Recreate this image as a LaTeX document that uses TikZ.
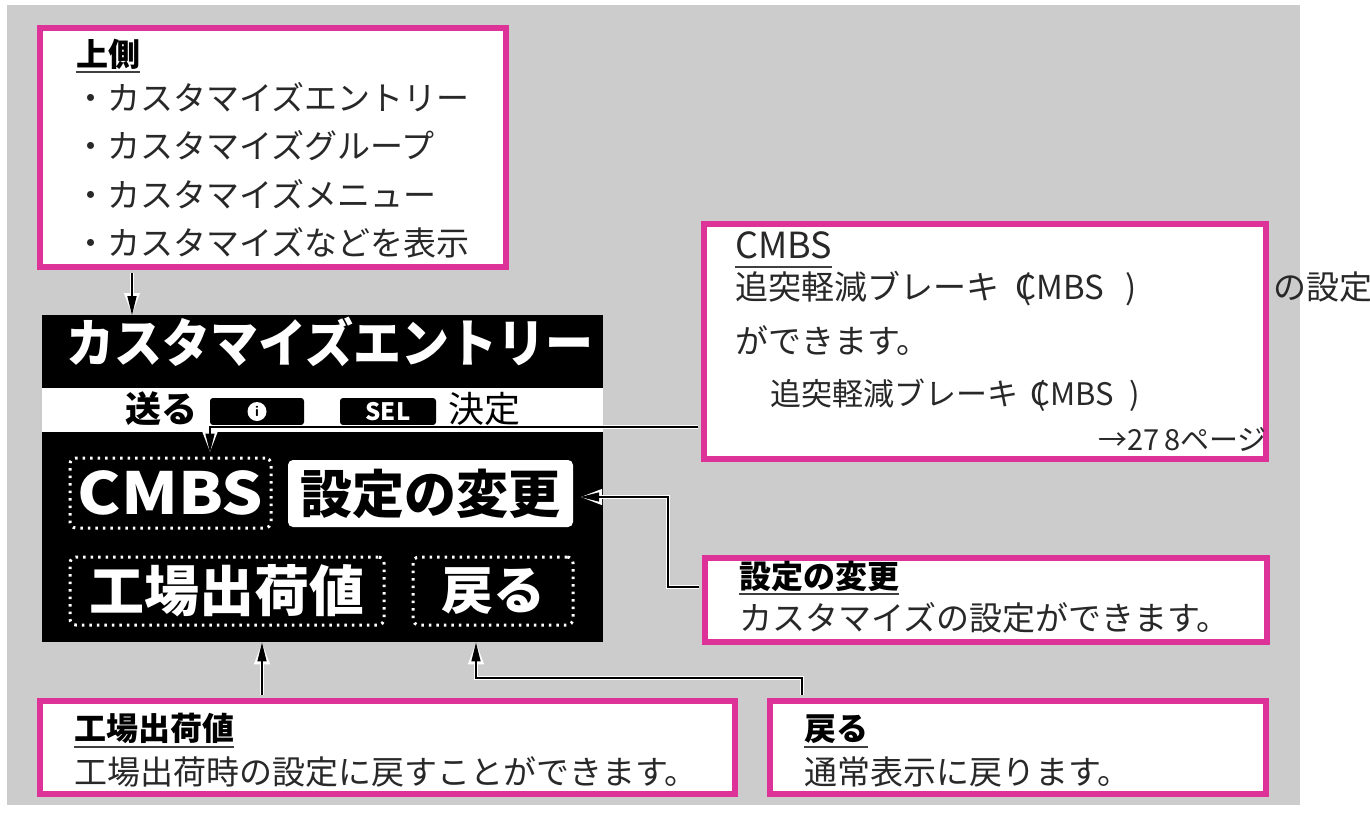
\documentclass[tikz,border=0pt]{standalone}
\usepackage{fontspec}
\usepackage{graphicx}
\usetikzlibrary{arrows.meta,calc}
\newfontfamily\jp{Noto Sans CJK JP}
\definecolor{pinkc}{RGB}{221,51,153}
\definecolor{bgc}{RGB}{204,204,204}
\definecolor{txt}{RGB}{40,40,40}
\tikzset{
  pinkbox/.style={draw=pinkc, fill=white, line width=6pt, inner sep=0pt, rectangle},
  btext/.style={font=\jp\fontsize{33}{36}\selectfont, anchor=base west, inner sep=0pt, text=txt},
  bhead/.style={font=\jp\bfseries\fontsize{32}{36}\selectfont, anchor=base west, inner sep=0pt, text=black},
  uline/.style={draw=black!75, line width=1.6pt},
  dotbox/.style={draw=white, line width=3pt, dash pattern=on 2.5pt off 5pt, rounded corners=6pt, inner sep=0pt, text=white},
  halo/.style={draw=white, line width=4.5pt, -{Triangle[length=22pt,width=15pt]}},
  wire/.style={draw=black, line width=1.5pt, -{Triangle[length=19pt,width=9pt]}},
}
\begin{document}
\begin{tikzpicture}[x=1pt,y=-1pt]
\useasboundingbox (0,0) rectangle (1370,815);
\fill[bgc] (7,5) rectangle (1300,805);

% display panel
\node[fill=black, inner sep=0pt, minimum width=561.5pt, minimum height=327pt, anchor=north west] (panel) at (41.5,315) {};
\node[fill=white, inner sep=0pt, minimum width=561.5pt, minimum height=44pt, anchor=north west] (strip) at (41.5,388) {};
\node[inner sep=0pt, text=white, font=\jp\bfseries\fontsize{48}{48}\selectfont] (title) at (330,342) {\scalebox{1}[1.08]{カスタマイズエントリー}};
\node[inner sep=0pt, text=black, font=\jp\bfseries\fontsize{36}{36}\selectfont] (send) at (161,409) {送る};
\node[fill=black, rounded corners=3pt, minimum width=94pt, minimum height=27pt, inner sep=0pt] (ibox) at (257,411.5) {};
\node[circle, fill=white, minimum size=19pt, inner sep=0pt, text=black, font=\bfseries\sffamily\fontsize{15}{15}\selectfont] (icon) at (257,411.5) {i};
\node[fill=black, rounded corners=3pt, minimum width=96pt, minimum height=27pt, inner sep=0pt, text=white, font=\jp\bfseries\fontsize{24}{24}\selectfont] (sel) at (388,411.5) {SEL};
\node[inner sep=0pt, text=black, font=\jp\fontsize{36}{36}\selectfont] (decide) at (484,409) {決定};

\node[dotbox, minimum width=201pt, minimum height=70pt, font=\jp\bfseries\fontsize{58}{58}\selectfont] (cmbsbtn) at (170.5,493) {\scalebox{1.12}[1]{CMBS}};
\node[fill=white, rounded corners=5pt, minimum width=285pt, minimum height=67pt, inner sep=0pt, text=black, font=\jp\bfseries\fontsize{52}{52}\selectfont] (setbtn) at (430.5,493.5) {設定の変更};
\node[dotbox, minimum width=314pt, minimum height=68pt, font=\jp\bfseries\fontsize{55}{55}\selectfont] (facbtn) at (227,591) {工場出荷値};
\node[dotbox, minimum width=160pt, minimum height=68pt, font=\jp\bfseries\fontsize{52}{52}\selectfont] (retbtn) at (493,591) {戻る};

% callout boxes
\node[pinkbox, minimum width=466pt, minimum height=239pt] (b1) at (273,147.5) {};
\node[pinkbox, minimum width=562pt, minimum height=235pt] (bcmbs) at (985,341.5) {};
\node[pinkbox, minimum width=562pt, minimum height=84pt] (bset) at (986,600) {};
\node[pinkbox, minimum width=695pt, minimum height=93pt] (bfac) at (387.5,747.5) {};
\node[pinkbox, minimum width=496pt, minimum height=93pt] (bret) at (1018,747.5) {};

% connectors
\coordinate (k1) at (132,0);
\coordinate (k2) at (210,427);
\coordinate (k3a) at (668,587);
\coordinate (k3b) at (668,497);
\coordinate (k4) at (262,0);
\coordinate (k5a) at (802,678);
\coordinate (k5b) at (476,678);
\foreach \s in {halo,wire}{
  \draw[\s] ([yshift=-3pt]b1.south -| k1) -- (panel.north -| k1);
  \draw[\s, shorten >=4pt] ([xshift=-3pt]bcmbs.west |- k2) -- (k2) -- (cmbsbtn.north -| k2);
  \draw[\s] ([xshift=-3pt]bset.west |- k3a) -- (k3a) -- (k3b) -- ([xshift=7pt]setbtn.east |- k3b);
  \draw[\s] ([yshift=3pt]bfac.north -| k4) -- (panel.south -| k4);
  \draw[\s] ([yshift=3pt]bret.north -| k5a) -- (k5a) -- (k5b) -- (panel.south -| k5b);
}

% texts of box 1
\node[bhead] (b1h) at (76,66) {上側};
\draw[uline] ([yshift=-6pt]b1h.base west) -- ([yshift=-6pt]b1h.base east);
\node[btext] (b1l1) at (74,110) {・カスタマイズエントリー};
\node[btext] (b1l2) at (74,158) {・カスタマイズグループ};
\node[btext] (b1l3) at (74,207) {・カスタマイズメニュー};
\node[btext] (b1l4) at (74,255) {・カスタマイズなどを表示};

% texts of CMBS box
\node[btext, font=\jp\fontsize{36}{36}\selectfont] (bch) at (735,258) {CMBS};
\draw[uline] ([yshift=-9pt]bch.base west) -- ([yshift=-9pt]bch.base east);
\node[btext] (bc1) at (735,299) {追突軽減ブレーキ\hspace{16pt}\rlap{\hspace{5pt}(}CMBS\hspace{22pt})};
\node[btext] (bc1b) at (1273,299) {の設定};
\node[btext] (bc2) at (735,353) {ができます。};
\node[btext, font=\jp\fontsize{31}{34}\selectfont] (bc3) at (770,405) {追突軽減ブレーキ\hspace{12pt}\rlap{\hspace{5pt}(}CMBS\hspace{16pt})};
\node[btext, anchor=base east, font=\jp\fontsize{29}{32}\selectfont] (bc4) at (1267,450) {→27\,8ページ};

% texts of set box
\node[bhead] (bsh) at (739,588) {設定の変更};
\draw[uline] ([yshift=-6pt]bsh.base west) -- ([yshift=-6pt]bsh.base east);
\node[btext] (bs1) at (739,630) {カスタマイズの設定ができます。};

% bottom boxes
\node[bhead] (bfh) at (74,740) {工場出荷値};
\draw[uline] ([yshift=-7pt]bfh.base west) -- ([yshift=-7pt]bfh.base east);
\node[btext] (bf1) at (74,784) {工場出荷時の設定に戻すことができます。};
\node[bhead] (brh) at (804,740) {戻る};
\draw[uline] ([yshift=-7pt]brh.base west) -- ([yshift=-7pt]brh.base east);
\node[btext] (br1) at (804,784) {通常表示に戻ります。};
\end{tikzpicture}
\end{document}
